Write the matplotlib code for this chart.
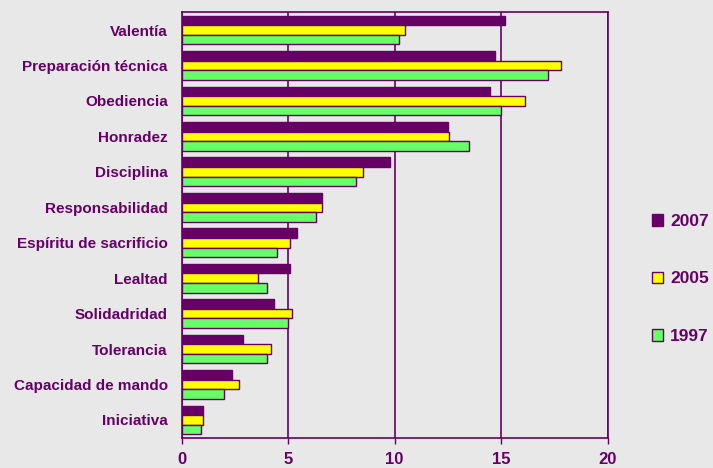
import numpy as np
import matplotlib.pyplot as plt

categorias = ["Valentía", "Preparación técnica", "Obediencia", "Honradez",
              "Disciplina", "Responsabilidad", "Espíritu de sacrificio",
              "Lealtad", "Solidadridad", "Tolerancia", "Capacidad de mando",
              "Iniciativa"]
v2007 = [15.2, 14.7, 14.5, 12.5, 9.8, 6.6, 5.4, 5.1, 4.35, 2.9, 2.35, 1.0]
v2005 = [10.5, 17.8, 16.1, 12.55, 8.5, 6.6, 5.1, 3.6, 5.2, 4.2, 2.7, 1.0]
v1997 = [10.2, 17.2, 15.0, 13.5, 8.2, 6.3, 4.5, 4.0, 5.0, 4.0, 2.0, 0.9]
xticks = [0, 5, 10, 15, 20]

purple = "#660066"
bg = "#E8E8E8"
plt.rcParams["font.family"] = ["Liberation Sans", "DejaVu Sans"]

fig = plt.figure(figsize=(7.13, 4.68), dpi=100, facecolor=bg)
ax = fig.add_axes([0.2546, 0.0647, 0.5977, 0.909])
ax.set_facecolor(bg)

y = np.arange(len(categorias))
h = 0.27
series = [(v2007, purple, "2007", -h), (v2005, "#FFFF00", "2005", 0),
          (v1997, "#66FF66", "1997", h)]
for vals, col, lab, off in series:
    ax.barh(y + off, vals, height=h, color=col, edgecolor=purple,
            linewidth=1, label=lab, zorder=3)

ax.set_xlim(0, 20)
ax.set_ylim(len(categorias) - 0.5, -0.5)
ax.set_xticks(xticks)
ax.set_xticklabels([str(t) for t in xticks], fontsize=12, fontweight="bold",
                   color=purple)
ax.tick_params(axis="x", colors=purple, length=4, width=1, pad=6)
ax.set_yticks(y)
ax.set_yticklabels(categorias, fontsize=11, fontweight="bold", color=purple)
ax.tick_params(axis="y", length=0, pad=10)
ax.grid(axis="x", color=purple, linewidth=1.2, zorder=1)
for s in ax.spines.values():
    s.set_color(purple)
    s.set_linewidth(1.2)

leg = fig.legend(loc="center left", bbox_to_anchor=(0.8925, 0.404),
                 frameon=False, labelspacing=2.45, handlelength=0.65,
                 handleheight=0.65, handletextpad=0.4,
                 prop={"weight": "bold", "size": 12.5})
for t in leg.get_texts():
    t.set_color(purple)

fig.savefig("out.png", dpi=100, facecolor=bg)
